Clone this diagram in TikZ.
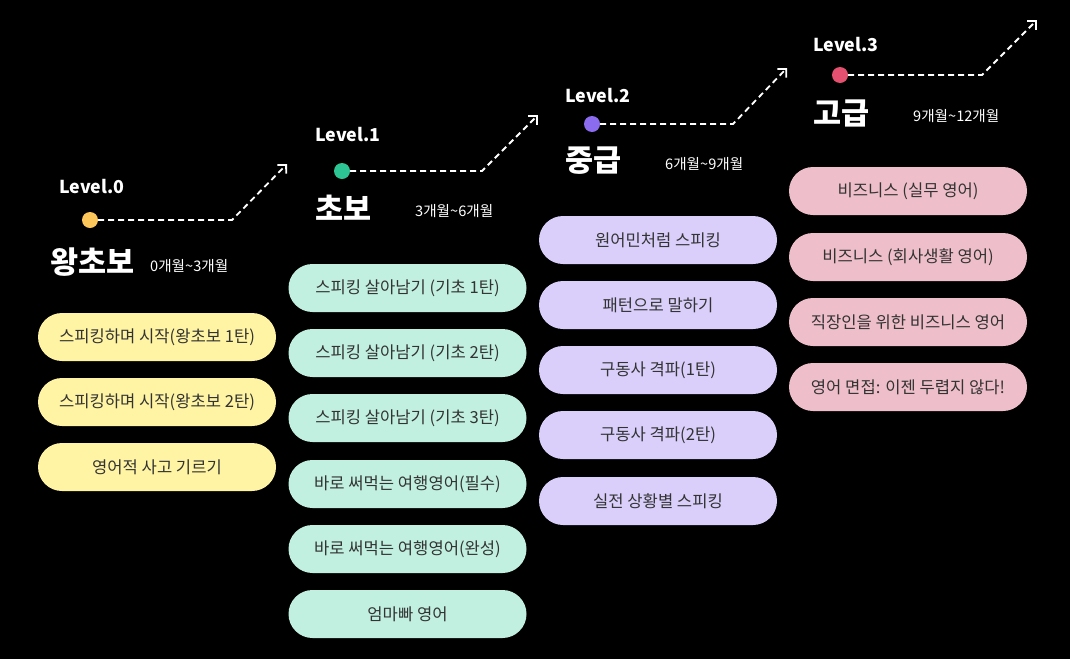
\documentclass[tikz,border=0pt]{standalone}
\usepackage{fontspec}
\setmainfont{Noto Sans CJK KR}
\usetikzlibrary{arrows.meta}
\definecolor{dotA}{HTML}{FCC65A}
\definecolor{dotB}{HTML}{2DC593}
\definecolor{dotC}{HTML}{8B6CEF}
\definecolor{dotD}{HTML}{E4506F}
\definecolor{boxA}{HTML}{FFF4A3}
\definecolor{boxB}{HTML}{C1F0E1}
\definecolor{boxC}{HTML}{DACFFB}
\definecolor{boxD}{HTML}{EEBFCA}
\definecolor{boxtext}{HTML}{333333}
\tikzset{
  pill/.style={rectangle, rounded corners=24pt, minimum width=238pt, minimum height=48pt, inner sep=0pt, text=boxtext, font=\fontsize{16.6pt}{19pt}\selectfont},
  leveltext/.style={anchor=west, inner sep=0pt, text=white, font=\fontsize{17.8pt}{21pt}\selectfont\bfseries},
  titletext/.style={anchor=west, inner sep=0pt, text=white, font=\fontsize{30.5pt}{34pt}\selectfont\bfseries},
  periodtext/.style={anchor=west, inner sep=0pt, text=white, font=\fontsize{14.6pt}{17pt}\selectfont},
  leveldot/.style={circle, minimum size=16pt, inner sep=0pt},
  pathline/.style={white, line width=1.8pt, dash pattern=on 6pt off 4pt, -{Straight Barb[angle=90:7pt 1, line cap=butt]}}
}
\begin{document}
\begin{tikzpicture}[x=1pt,y=-1pt]
\fill[black] (0,0) rectangle (1070,659);
\useasboundingbox (0,0) rectangle (1070,659);

% Level 0
\node[leveltext] (l0) at (59,187) {Level.0};
\node[leveldot, fill=dotA] (d0) at (90,220) {};
\coordinate (b0) at (232,220);
\coordinate (e0) at (287,164);
\draw[pathline] (d0.east) -- (b0) -- (e0);
\node[titletext] (t0) at (50,262) {왕초보};
\node[periodtext] (p0) at (150,266) {0개월\textasciitilde 3개월};
\node[pill, fill=boxA] (a1) at (157,337) {스피킹하며 시작(왕초보 1탄)};
\node[pill, fill=boxA] (a2) at (157,402) {스피킹하며 시작(왕초보 2탄)};
\node[pill, fill=boxA] (a3) at (157,467) {영어적 사고 기르기};

% Level 1
\node[leveltext] (l1) at (315,135) {Level.1};
\node[leveldot, fill=dotB] (d1) at (342,171) {};
\coordinate (b1) at (482,171);
\coordinate (e1) at (538,115);
\draw[pathline] (d1.east) -- (b1) -- (e1);
\node[titletext] (t1) at (315,208) {초보};
\node[periodtext] (p1) at (415,211) {3개월\textasciitilde 6개월};
\node[pill, fill=boxB] (b1a) at (407.5,288) {스피킹 살아남기 (기초 1탄)};
\node[pill, fill=boxB] (b1b) at (407.5,353) {스피킹 살아남기 (기초 2탄)};
\node[pill, fill=boxB] (b1c) at (407.5,418) {스피킹 살아남기 (기초 3탄)};
\node[pill, fill=boxB] (b1d) at (407.5,484) {바로 써먹는 여행영어(필수)};
\node[pill, fill=boxB] (b1e) at (407.5,549) {바로 써먹는 여행영어(완성)};
\node[pill, fill=boxB] (b1f) at (407.5,614) {엄마빠 영어};

% Level 2
\node[leveltext] (l2) at (565,96) {Level.2};
\node[leveldot, fill=dotC] (d2) at (592,124) {};
\coordinate (b2) at (733,124);
\coordinate (e2) at (787,68);
\draw[pathline] (d2.east) -- (b2) -- (e2);
\node[titletext] (t2) at (565,161) {중급};
\node[periodtext] (p2) at (665,164) {6개월\textasciitilde 9개월};
\node[pill, fill=boxC] (c1) at (658,240) {원어민처럼 스피킹};
\node[pill, fill=boxC] (c2) at (658,305) {패턴으로 말하기};
\node[pill, fill=boxC] (c3) at (658,370) {구동사 격파(1탄)};
\node[pill, fill=boxC] (c4) at (658,435) {구동사 격파(2탄)};
\node[pill, fill=boxC] (c5) at (658,501) {실전 상황별 스피킹};

% Level 3
\node[leveltext] (l3) at (813,45) {Level.3};
\node[leveldot, fill=dotD] (d3) at (840,75) {};
\coordinate (b3) at (982,75);
\coordinate (e3) at (1037,20);
\draw[pathline] (d3.east) -- (b3) -- (e3);
\node[titletext] (t3) at (813,113) {고급};
\node[periodtext] (p3) at (913,116) {9개월\textasciitilde 12개월};
\node[pill, fill=boxD] (f1) at (908,191) {비즈니스 (실무 영어)};
\node[pill, fill=boxD] (f2) at (908,257) {비즈니스 (회사생활 영어)};
\node[pill, fill=boxD] (f3) at (908,322) {직장인을 위한 비즈니스 영어};
\node[pill, fill=boxD] (f4) at (908,387) {영어 면접: 이젠 두렵지 않다!};
\end{tikzpicture}
\end{document}
